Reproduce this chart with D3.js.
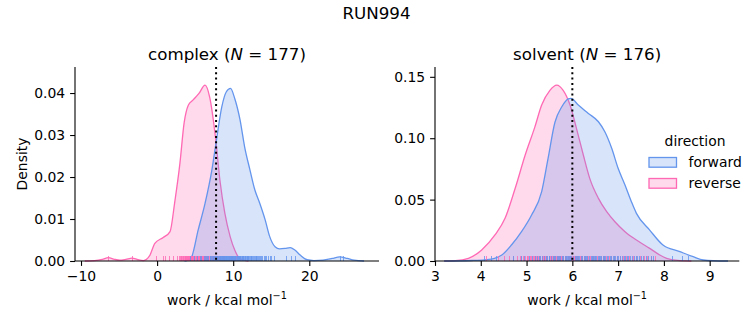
<!DOCTYPE html>
<html>
<head>
<meta charset="utf-8">
<script src="https://cdn.jsdelivr.net/npm/d3@7/dist/d3.min.js"></script>
<style>
  body { margin: 0; background: #fff; }
  text { font-family: "DejaVu Sans", sans-serif; fill: #000; }
</style>
</head>
<body>
<div id="plot_area"></div>
<script>
const svgWidth = 753, svgHeight = 325

// KDE curves read as [work, density]
const complexForwardKde = [[3.6,0],[4.1,0.0002],[4.5,0.0008],[5.4,0.0074],[6.3,0.0137],[7.2,0.0217],[7.8,0.0288],[8.5,0.0367],[9.1,0.0403],[9.65,0.0411],[10.2,0.0387],[10.9,0.0336],[11.5,0.0272],[12.2,0.0217],[12.85,0.0169],[13.5,0.0137],[14.2,0.0098],[14.8,0.0058],[15.5,0.0034],[16.1,0.0029],[16.8,0.003],[17.5,0.0032],[18.1,0.0026],[18.8,0.0014],[19.7,0.0003],[20.6,0.0001],[21.8,0.0002],[23.0,0.0006],[24.0,0.001],[25.0,0.0006],[25.9,0.0002],[27.2,0]]
const complexReverseKde = [[-9.5,0],[-8.2,0.0001],[-7.2,0.0004],[-6.4,0.0008],[-5.6,0.0004],[-4.9,0.0002],[-4.1,0.0004],[-3.3,0.0007],[-2.5,0.0003],[-1.8,0.0001],[-1.0,0.0012],[-0.3,0.0042],[0.8,0.0056],[1.7,0.007],[2.3,0.0138],[3.0,0.0233],[3.55,0.0329],[4.1,0.0371],[4.7,0.0383],[5.5,0.0399],[6.3,0.0419],[6.9,0.0391],[7.7,0.029],[8.25,0.0193],[8.9,0.0114],[9.6,0.0058],[10.2,0.0026],[10.9,0.0005],[12.0,0]]
const solventForwardKde = [[3.2,0],[3.8,0.0004],[4.09,0.001],[4.3,0.0022],[4.46,0.0049],[4.67,0.013],[4.89,0.0239],[5.11,0.0375],[5.33,0.0565],[5.47,0.0836],[5.62,0.113],[5.77,0.1256],[5.91,0.132],[5.97,0.1325],[6.13,0.127],[6.35,0.1202],[6.57,0.1134],[6.71,0.1053],[6.86,0.0918],[7.0,0.0755],[7.15,0.0619],[7.29,0.0483],[7.4,0.0388],[7.69,0.0252],[7.98,0.013],[8.35,0.0076],[8.64,0.0035],[8.86,0.0008],[9.08,0.0002],[9.4,0]]
const solventReverseKde = [[3.2,0],[3.44,0.0003],[3.73,0.0022],[4.02,0.009],[4.31,0.0212],[4.53,0.0348],[4.75,0.059],[4.97,0.0863],[5.18,0.109],[5.33,0.127],[5.51,0.139],[5.66,0.1433],[5.8,0.139],[5.95,0.127],[6.09,0.108],[6.24,0.0863],[6.38,0.0673],[6.57,0.051],[6.75,0.0402],[6.93,0.032],[7.15,0.0239],[7.4,0.0171],[7.69,0.0103],[7.91,0.0049],[8.06,0.0022],[8.3,0.0005],[8.6,0]]

// individual work values for the rugs
const complexForwardWork = [4.3,4.9,5.3,5.6,5.8,6.1,6.25,6.4,6.6,6.75,6.9,7.0,7.1,7.2,7.3,7.4,7.5,7.55,7.6,7.7,7.8,7.85,7.9,8.0,8.1,8.15,8.2,8.3,8.4,8.45,8.5,8.55,8.6,8.7,8.8,8.85,8.9,8.95,9.0,9.05,9.1,9.15,9.2,9.3,9.35,9.4,9.5,9.55,9.6,9.65,9.7,9.75,9.8,9.9,9.95,10.0,10.05,10.1,10.2,10.25,10.3,10.4,10.45,10.5,10.6,10.65,10.7,10.8,10.9,10.95,11.0,11.1,11.2,11.3,11.35,11.4,11.5,11.6,11.7,11.8,11.85,11.9,12.0,12.1,12.2,12.3,12.4,12.5,12.6,12.7,12.8,12.95,13.0,13.1,13.3,13.4,13.5,13.7,13.8,14.0,14.2,14.3,14.6,14.8,15.0,15.4,16.9,17.6,18.1,24.1,24.4]
const complexReverseWork = [-6.4,-3.3,-0.2,0.8,1.05,1.6,2.1,2.6,2.9,3.0,3.1,3.2,3.25,3.35,3.4,3.5,3.6,3.65,3.7,3.8,3.85,3.9,3.95,4.05,4.1,4.15,4.2,4.3,4.35,4.4,4.45,4.5,4.55,4.6,4.7,4.75,4.8,4.85,4.9,5.0,5.05,5.1,5.15,5.2,5.3,5.35,5.4,5.45,5.5,5.6,5.65,5.7,5.75,5.8,5.85,5.9,6.0,6.05,6.1,6.15,6.2,6.25,6.3,6.35,6.4,6.5,6.55,6.6,6.65,6.7,6.75,6.85,6.9,6.95,7.0,7.05,7.15,7.2,7.3,7.35,7.45,7.5,7.6,7.7,7.75,7.9,8.0,8.05,8.2,8.3,8.5,8.65,8.8,9.1,9.5,9.9,10.4]
const solventForwardWork = [4.08,4.22,4.33,4.7,4.88,4.95,5.05,5.12,5.18,5.22,5.27,5.3,5.34,5.38,5.42,5.45,5.48,5.5,5.54,5.57,5.6,5.63,5.66,5.68,5.71,5.74,5.77,5.8,5.83,5.86,5.88,5.9,5.93,5.95,5.98,6.02,6.05,6.08,6.1,6.12,6.15,6.18,6.22,6.25,6.28,6.3,6.33,6.36,6.4,6.42,6.45,6.48,6.5,6.52,6.55,6.58,6.6,6.63,6.67,6.7,6.72,6.75,6.78,6.82,6.85,6.88,6.9,6.93,6.97,7.0,7.04,7.08,7.12,7.15,7.19,7.22,7.26,7.3,7.35,7.38,7.42,7.46,7.5,7.55,7.6,7.66,7.72,7.76,8.17,8.39,8.53]
const solventReverseWork = [4.12,4.38,4.5,4.62,4.7,4.8,4.85,4.88,4.93,4.97,5.0,5.02,5.04,5.07,5.1,5.13,5.16,5.18,5.2,5.23,5.26,5.28,5.3,5.33,5.36,5.38,5.4,5.43,5.45,5.48,5.5,5.52,5.53,5.56,5.58,5.6,5.62,5.64,5.66,5.68,5.7,5.72,5.74,5.76,5.78,5.8,5.83,5.85,5.87,5.9,5.92,5.95,5.97,5.99,6.01,6.04,6.06,6.08,6.1,6.13,6.16,6.19,6.22,6.25,6.28,6.31,6.35,6.38,6.42,6.46,6.5,6.54,6.58,6.62,6.66,6.7,6.74,6.8,6.85,6.91,6.97,7.04,7.1,7.17,7.24,7.32,7.4,7.48,7.56,7.64,7.72,7.8]

const panels = [
  { title: 'complex', n: 177, xDomain: [-10.79, 29.16], yDomain: [0, 0.0462],
    xTicks: [-10, 0, 10, 20], yTicks: [0, 0.01, 0.02, 0.03, 0.04], yFormat: d3.format('.2f'),
    forward: complexForwardKde, reverse: complexReverseKde,
    forwardRug: complexForwardWork, reverseRug: complexReverseWork, vline: 7.75,
    left: 75, width: 304, ylabel: true },
  { title: 'solvent', n: 176, xDomain: [3, 9.647], yDomain: [0, 0.158],
    xTicks: [3, 4, 5, 6, 7, 8, 9], yTicks: [0, 0.05, 0.1, 0.15], yFormat: d3.format('.2f'),
    forward: solventForwardKde, reverse: solventReverseKde,
    forwardRug: solventForwardWork, reverseRug: solventReverseWork, vline: 6.0,
    left: 435, width: 304.3, ylabel: false }
]

const marginTop = 67, chartHeight = 194
const colors = { forward: '#6495ed', reverse: '#ff69b4' }

const svg = d3.select('#plot_area').append('svg')
    .attr('width', svgWidth)
    .attr('height', svgHeight)

svg.append('text')
    .attr('x', 376.5).attr('y', 19)
    .attr('text-anchor', 'middle')
    .attr('font-size', 16.7)
    .text('RUN994')

panels.forEach(p => {
  const g = svg.append('g').attr('transform', `translate(${p.left}, ${marginTop})`)
  const x = d3.scaleLinear().domain(p.xDomain).range([0, p.width])
  const y = d3.scaleLinear().domain(p.yDomain).range([chartHeight, 0])

  const area = d3.area().x(d => x(d[0])).y0(y(0)).y1(d => y(d[1])).curve(d3.curveMonotoneX)
  const line = d3.line().x(d => x(d[0])).y(d => y(d[1])).curve(d3.curveMonotoneX)

  // reverse goes underneath, forward on top
  ;['reverse', 'forward'].forEach(dir => {
    g.append('path').datum(p[dir])
      .attr('d', area)
      .attr('fill', colors[dir])
      .attr('fill-opacity', 0.25)
    g.append('path').datum(p[dir])
      .attr('d', line)
      .attr('fill', 'none')
      .attr('stroke', colors[dir])
      .attr('stroke-width', 1.3)
  })

  // rugs
  ;['reverse', 'forward'].forEach(dir => {
    g.append('g').selectAll('line')
      .data(p[dir + 'Rug'])
      .enter().append('line')
        .attr('x1', d => Math.round(x(d)) + 0.5).attr('x2', d => Math.round(x(d)) + 0.5)
        .attr('y1', chartHeight).attr('y2', chartHeight - 5)
        .attr('stroke', colors[dir])
        .attr('stroke-width', 1)
        .attr('stroke-opacity', 0.8)
        .attr('shape-rendering', 'crispEdges')
  })

  g.append('line')
    .attr('x1', x(p.vline)).attr('x2', x(p.vline))
    .attr('y1', 0).attr('y2', chartHeight)
    .attr('stroke', '#000')
    .attr('stroke-width', 2)
    .attr('stroke-dasharray', '2,3.3')

  const xAxis = g.append('g')
    .attr('transform', `translate(0, ${chartHeight})`)
    .call(d3.axisBottom(x).tickValues(p.xTicks).tickSize(4.9).tickPadding(4.9)
      .tickFormat(d => d3.format('d')(d).replace('-', '\u2212')))
  const yAxis = g.append('g')
    .call(d3.axisLeft(y).tickValues(p.yTicks).tickSize(4.9).tickPadding(4.9).tickFormat(p.yFormat))

  ;[xAxis, yAxis].forEach(ax => {
    ax.select('.domain').attr('stroke-width', 1.1)
    ax.selectAll('.tick line').attr('stroke-width', 1.1)
    ax.selectAll('.tick text').attr('font-size', 13.9).attr('font-family', 'DejaVu Sans').attr('fill', '#000')
  })
  // spine lines without the outer tick stubs
  xAxis.select('.domain').attr('d', `M0,0H${p.width}`)
  yAxis.select('.domain').attr('d', `M0,${chartHeight}V0`)

  const title = g.append('text')
    .attr('x', p.width / 2).attr('y', -7)
    .attr('text-anchor', 'middle')
    .attr('font-size', 16.7)
  title.append('tspan').text(p.title + ' (')
  title.append('tspan').attr('font-style', 'italic').text('N')
  title.append('tspan').text(' = ' + p.n + ')')

  const xlabel = g.append('text')
    .attr('x', p.width / 2).attr('y', chartHeight + 43.5)
    .attr('text-anchor', 'middle')
    .attr('font-size', 13.9)
  xlabel.append('tspan').text('work / kcal mol')
  xlabel.append('tspan').attr('font-size', 9.7).attr('dy', -5.5).text('\u22121')

  if (p.ylabel) {
    g.append('text')
      .attr('transform', `translate(${27 - p.left}, ${chartHeight / 2}) rotate(-90)`)
      .attr('text-anchor', 'middle')
      .attr('font-size', 13.9)
      .text('Density')
  }
})

// legend
const legend = svg.append('g')
legend.append('text')
    .attr('x', 695).attr('y', 146)
    .attr('text-anchor', 'middle')
    .attr('font-size', 13.9)
    .text('direction')
;['forward', 'reverse'].forEach((dir, i) => {
  const yy = 157.5 + i * 21
  legend.append('rect')
    .attr('x', 649).attr('y', yy)
    .attr('width', 27.5).attr('height', 9.7)
    .attr('fill', colors[dir]).attr('fill-opacity', 0.25)
    .attr('stroke', colors[dir]).attr('stroke-width', 1.3)
  legend.append('text')
    .attr('x', 688.5).attr('y', yy + 9.5)
    .attr('font-size', 13.9)
    .text(dir)
})
</script>
</body>
</html>
